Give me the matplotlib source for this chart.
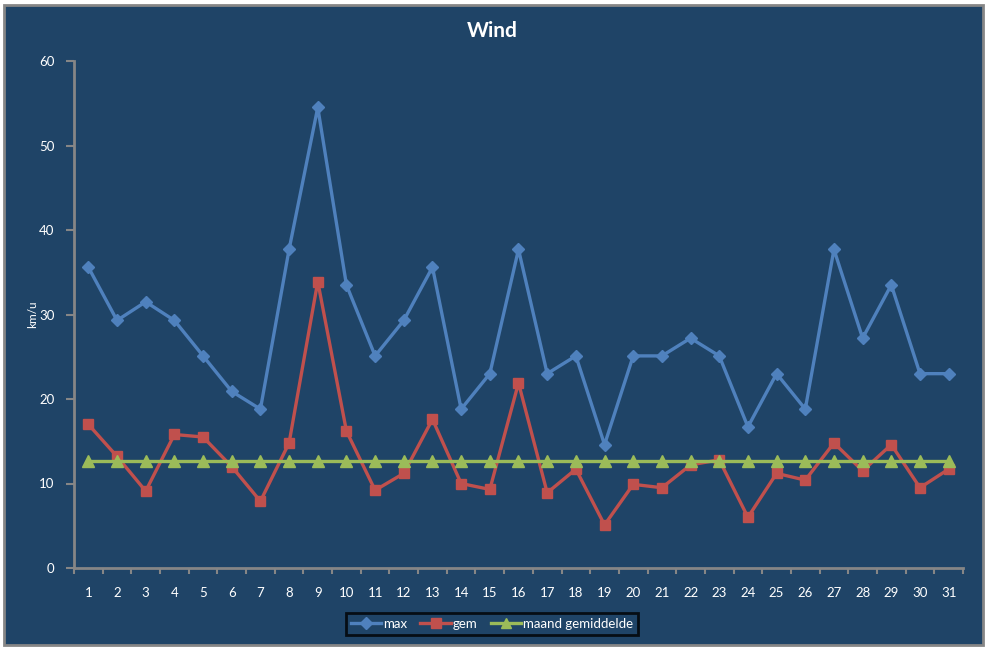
import matplotlib
matplotlib.use("Agg")
import matplotlib.pyplot as plt
from matplotlib.patches import Rectangle
import numpy as np

days = list(range(1, 32))
max_wind = [35.6, 29.3, 31.5, 29.3, 25.1, 20.9, 18.8, 37.7, 54.5, 33.5,
            25.1, 29.3, 35.6, 18.8, 23.0, 37.7, 23.0, 25.1, 14.6, 25.1,
            25.1, 27.2, 25.1, 16.7, 23.0, 18.8, 37.7, 27.2, 33.5, 23.0, 23.0]
gem_wind = [17.0, 13.2, 9.1, 15.8, 15.5, 12.0, 7.9, 14.8, 33.9, 16.2,
            9.2, 11.2, 17.6, 10.0, 9.3, 21.9, 8.9, 11.7, 5.1, 9.9,
            9.5, 12.2, 12.8, 6.0, 11.2, 10.4, 14.8, 11.5, 14.6, 9.5, 11.7]
maand_gem = [12.7] * 31

BG = "#1F4467"
AXC = "#868686"
plt.rcParams['font.family'] = ['Lato', 'DejaVu Sans']

fig = plt.figure(figsize=(9.87, 6.48), dpi=100, facecolor="white")
# chart area with grey border, kept behind the axes
fig.patches.append(Rectangle((4.5 / 987, 3.5 / 648), 979 / 987, 640 / 648,
                             transform=fig.transFigure, facecolor=BG,
                             edgecolor=AXC, linewidth=2, zorder=-10))

ax = fig.add_axes([74 / 987, 80 / 648, 889 / 987, 507 / 648])
ax.set_facecolor("none")

x = np.arange(len(days))
ax.plot(x, max_wind, color="#4F81BD", lw=2.4, marker="D", ms=6.5, label="max")
ax.plot(x, gem_wind, color="#C0504D", lw=2.4, marker="s", ms=7.5, label="gem")
ax.plot(x, maand_gem, color="#9BBB59", lw=2.4, marker="^", ms=8, label="maand gemiddelde")

ax.set_xlim(-0.5, len(days) - 0.5)
ax.set_ylim(0, 60)
ax.set_yticks(range(0, 61, 10))
ax.set_xticks(x)
ax.set_xticklabels([str(d) for d in days])
ax.set_xticks(np.arange(-0.5, len(days), 1), minor=True)
ax.tick_params(axis="x", which="major", length=0, pad=14, labelcolor="white", labelsize=9.5)
ax.tick_params(axis="x", which="minor", length=4, color=AXC, width=1.5, direction="out")
ax.tick_params(axis="y", length=6, color=AXC, width=1.5, labelcolor="white", labelsize=9.5, pad=8)

for s in ["top", "right"]:
    ax.spines[s].set_visible(False)
for s in ["left", "bottom"]:
    ax.spines[s].set_color(AXC)
    ax.spines[s].set_linewidth(2)

ax.set_ylabel("km/u", color="white", fontsize=8.5, labelpad=1)
fig.text(492 / 987, 1 - 31 / 648, "Wind", color="white", fontsize=15,
         fontweight="bold", ha="center", va="center")

leg = ax.legend(loc="center", bbox_to_anchor=(492 / 987, 1 - 624 / 648),
                bbox_transform=fig.transFigure, ncol=3, frameon=True,
                fontsize=9.5, handlelength=2.3, handletextpad=0.15,
                columnspacing=1.0, borderpad=0.35, fancybox=False,
                markerscale=0.9)
leg.get_frame().set_facecolor(BG)
leg.get_frame().set_edgecolor("black")
leg.get_frame().set_linewidth(2)
for t in leg.get_texts():
    t.set_color("white")

fig.savefig("out.png", dpi=100, facecolor="white")
